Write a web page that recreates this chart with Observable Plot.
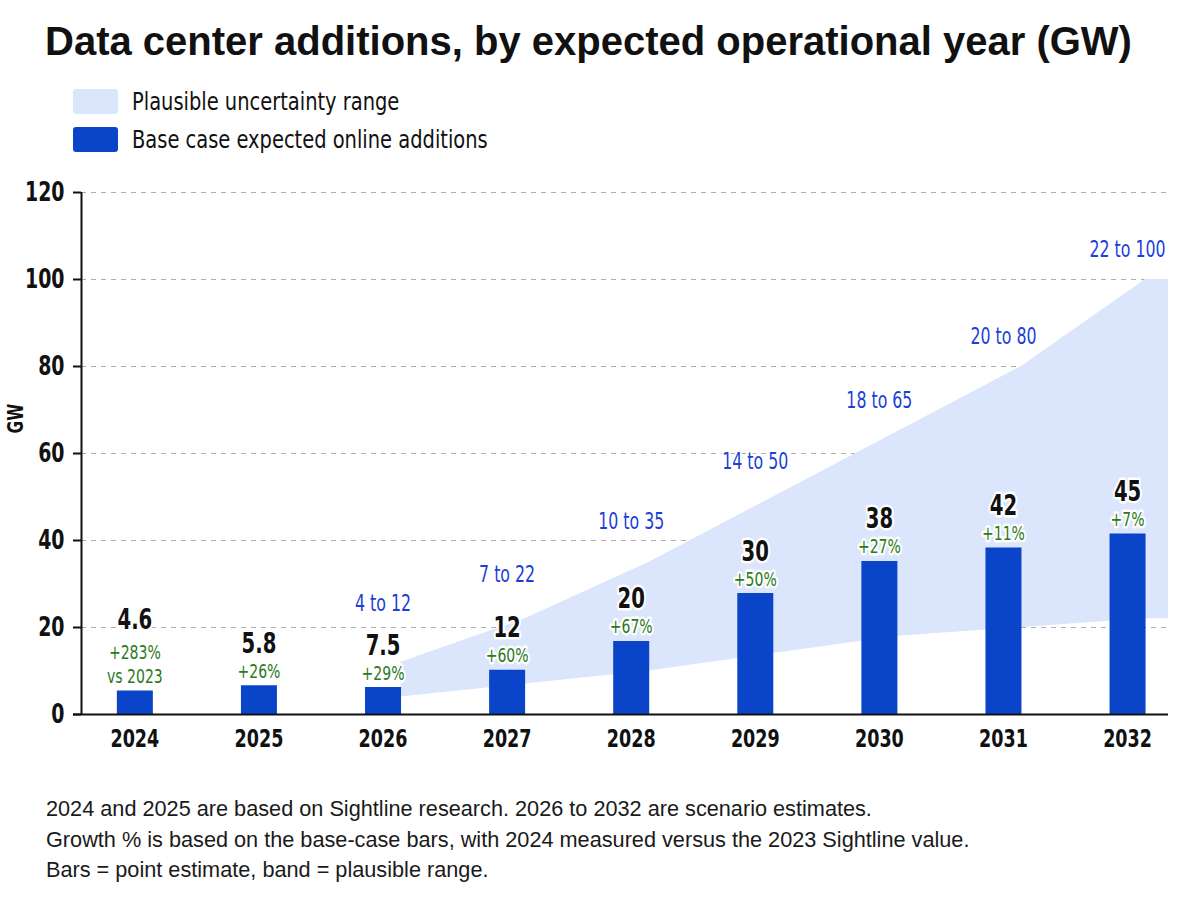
<!DOCTYPE html>
<html>
<head>
<meta charset="utf-8">
<script src="https://cdn.jsdelivr.net/npm/d3@7"></script>
<script src="https://cdn.jsdelivr.net/npm/@observablehq/plot@0.6"></script>
<style>
  body { margin: 0; background: #fff; }
  #wrap { position: relative; width: 1200px; height: 900px; overflow: hidden; background: #fff; font-family: "Liberation Sans", Arial, sans-serif; color: #111; }
  #title { position: absolute; left: 45px; top: 21px; font-size: 40px; line-height: 1; font-weight: bold; white-space: nowrap; color: #111; }
  .leg { position: absolute; left: 73px; height: 25px; display: flex; align-items: center; white-space: nowrap; font-size: 25px; color: #111; }
  .leg .t { display: inline-block; transform: scaleX(0.865); transform-origin: left center; }
  .sw { display: inline-block; width: 45px; height: 25px; border-radius: 3px; margin-right: 14px; }
  #chart { position: absolute; left: 0; top: 170px; }
  #foot { position: absolute; left: 46px; top: 794px; font-size: 21.7px; line-height: 30.5px; color: #1a1a1a; white-space: nowrap; }
</style>
</head>
<body>
<div id="wrap">
  <div id="title">Data center additions, by expected operational year (GW)</div>
  <div class="leg" style="top:89px"><span class="sw" style="background:#dbe5fb"></span><span class="t">Plausible uncertainty range</span></div>
  <div class="leg" style="top:127px"><span class="sw" style="background:#0a44c8"></span><span class="t">Base case expected online additions</span></div>
  <div id="chart"></div>
  <div id="foot">
    <div>2024 and 2025 are based on Sightline research. 2026 to 2032 are scenario estimates.</div>
    <div>Growth % is based on the base-case bars, with 2024 measured versus the 2023 Sightline value.</div>
    <div>Bars = point estimate, band = plausible range.</div>
  </div>
</div>
<script>
// ---- data ----
const years = [2024, 2025, 2026, 2027, 2028, 2029, 2030, 2031, 2032];
const barValues = [5.4, 6.6, 6.2, 10.2, 16.8, 27.8, 35.2, 38.3, 41.5];
const valueLabels = ["4.6", "5.8", "7.5", "12", "20", "30", "38", "42", "45"];
const growthLabels = ["+283%\nvs 2023", "+26%", "+29%", "+60%", "+67%", "+50%", "+27%", "+11%", "+7%"];
const rangeYears = [2026, 2027, 2028, 2029, 2030, 2031, 2032];
const rangeLow = [4, 7, 10, 14, 18, 20, 22];
const rangeHigh = [12, 22, 35, 50, 65, 80, 100];
const yTicks = [0, 20, 40, 60, 80, 100, 120];

// ---- fonts ----
function hasFont(name) {
  const c = document.createElement("canvas").getContext("2d");
  const s = "mmmmmmmmmmlliWWW0123456789";
  return ["monospace", "serif"].some(b => {
    c.font = `40px ${b}`; const w0 = c.measureText(s).width;
    c.font = `40px "${name}", ${b}`; return c.measureText(s).width !== w0;
  });
}
const narrowName = ["Liberation Sans Narrow", "Arial Narrow", "DejaVu Sans Condensed", "Roboto Condensed"].find(hasFont);
const NARROW = narrowName ? `"${narrowName}", "Liberation Sans", sans-serif` : `"Liberation Sans", sans-serif`;
document.querySelectorAll(".leg .t").forEach(el => el.style.fontFamily = NARROW);

// ---- tables ----
const bars = years.map((year, i) => ({year, value: barValues[i], label: valueLabels[i], growth: growthLabels[i]}));
const ranges = rangeYears.map((year, i) => ({year, low: rangeLow[i], high: rangeHigh[i], label: `${rangeLow[i]} to ${rangeHigh[i]}`}));

const xDomain = [2023.57, 2032.33];
const barWidthPx = 36;
const W = 1200, H = 600, mL = 81, mR = 32, mT = 22, mB = 56;
const pxPerYear = (W - mL - mR) / (xDomain[1] - xDomain[0]);
const half = barWidthPx / 2 / pxPerYear;

// band vertices sit at the right edge of each bar; the last one is carried to the frame edge
const bandPts = ranges.map(d => ({x: d.year + half, low: d.low, high: d.high}));
const lastR = ranges[ranges.length - 1];
bandPts.push({x: xDomain[1], low: lastR.low, high: lastR.high});

const BLUE = "#0a44c8", BAND = "#dbe5fb", GREEN = "#2b7a22", RANGE_BLUE = "#1c3fd6";
const halo = {stroke: "white", strokeWidth: 5, paintOrder: "stroke", strokeLinejoin: "round"};

const rangeDy = [[2026, -59], [2027, -44], [2028, -40], [2029, -35], [2030, -31], [2031, -30], [2032, -30]];

const chart = Plot.plot({
  width: W, height: H,
  marginLeft: mL, marginRight: mR, marginTop: mT, marginBottom: mB,
  style: {fontFamily: NARROW, background: "transparent", overflow: "visible", color: "#111"},
  x: {domain: xDomain},
  y: {domain: [0, 120]},
  marks: [
    Plot.gridY(yTicks.slice(1), {stroke: "#a5a5a5", strokeOpacity: 0.9, strokeDasharray: "5,5", strokeWidth: 1}),
    Plot.areaY(bandPts, {x: "x", y1: "low", y2: "high", fill: BAND}),
    Plot.ruleX(bars, {x: "year", y1: 0, y2: "value", stroke: BLUE, strokeWidth: barWidthPx}),
    Plot.ruleY([0], {stroke: "#111", strokeWidth: 2, insetLeft: -8}),
    Plot.ruleX([xDomain[0]], {y1: 0, y2: 120, stroke: "#111", strokeWidth: 2}),
    Plot.axisY(yTicks, {tickSize: 8, tickPadding: 9, fontSize: 27, fontWeight: "bold", label: null, stroke: "#111", strokeWidth: 2}),
    Plot.axisX(years, {tickSize: 0, tickPadding: 15, fontSize: 25, fontWeight: "bold", tickFormat: d => String(d), label: null}),
    Plot.text(["GW"], {frameAnchor: "left", rotate: -90, dx: -66, dy: -20, fontSize: 22, fontWeight: "bold", fill: "#111"}),
    Plot.text(bars, {x: "year", y: "value", text: "growth", lineAnchor: "bottom", dy: -8, lineHeight: 1.2, fontSize: 20, fill: GREEN, ...halo}),
    Plot.text(bars.filter(d => d.growth.includes("\n")), {x: "year", y: "value", text: "label", lineAnchor: "bottom", dy: -62, fontSize: 28, fontWeight: "bold", fill: "#111", ...halo}),
    Plot.text(bars.filter(d => !d.growth.includes("\n")), {x: "year", y: "value", text: "label", lineAnchor: "bottom", dy: -33, fontSize: 28, fontWeight: "bold", fill: "#111", ...halo}),
    ...rangeDy.map(([yr, dy]) => Plot.text(ranges.filter(d => d.year === yr), {x: "year", y: "high", text: "label", dy, fontSize: 22.5, fill: RANGE_BLUE, ...halo}))
  ]
});
document.getElementById("chart").appendChild(chart);

// condense the chart's glyphs horizontally (the reference uses a tall, narrow face)
const SQ = 0.78;
chart.querySelectorAll("text").forEach(t => {
  const spans = t.querySelectorAll("tspan");
  (spans.length ? [...spans] : [t]).forEach(el => {
    const L = el.getComputedTextLength();
    if (L > 0) { el.setAttribute("textLength", (L * SQ).toFixed(2)); el.setAttribute("lengthAdjust", "spacingAndGlyphs"); }
  });
});
</script>
</body>
</html>
